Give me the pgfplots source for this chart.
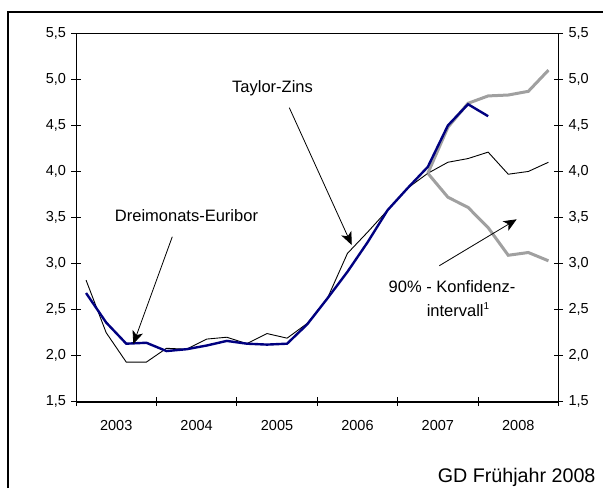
\documentclass[border=0pt]{standalone}
\usepackage{fontspec}
\setmainfont{Liberation Sans}
\usepackage{pgfplots}
\pgfplotsset{compat=1.18}
\usetikzlibrary{arrows.meta}

\definecolor{euribor}{RGB}{0,0,128}
\definecolor{band}{RGB}{160,160,160}

\newcommand{\tickfont}{\fontsize{14.5}{17}\selectfont}
\newcommand{\notefont}{\fontsize{16.5}{19}\selectfont}

\begin{document}
\begin{tikzpicture}
\path[use as bounding box] (0pt,0pt) rectangle (603pt,-488pt);

% frame (cut off at right and bottom)
\draw[line width=2pt] (7.7pt,-488pt) -- (7.7pt,-12pt) -- (603pt,-12pt);

\begin{axis}[
    at={(76pt,-401.7pt)}, anchor=south west,
    scale only axis,
    width=482.5pt, height=368.4pt,
    xmin=0, xmax=24, ymin=1.5, ymax=5.5,
    xtick={0,4,...,24}, xticklabels={},
    extra x ticks={2,6,10,14,18,22},
    extra x tick labels={2003,2004,\raisebox{1.5pt}{2005},\raisebox{1pt}{2006},\raisebox{-3pt}{2007},2008},
    extra x tick style={major tick length=0pt,
        tick label style={font=\tickfont, yshift=-15pt}},
    ytick={1.5,2,...,5.5},
    tick align=center, major tick length=9pt,
    ytick pos=left, xtick pos=bottom,
    yticklabel style={font=\tickfont, xshift=-2pt},
    /pgf/number format/.cd, use comma, fixed, fixed zerofill, precision=1,
        assume math mode=true,
    /pgfplots/.cd,
    axis line style={line width=1pt},
    tick style={line width=1pt, black},
    clip=false,
]

% Taylor-Zins
\addplot[black, line width=0.9pt] coordinates {
  (0.5,2.82) (1.5,2.25) (2.5,1.93) (3.5,1.93) (4.5,2.08) (5.5,2.07)
  (6.5,2.18) (7.5,2.20) (8.5,2.13) (9.5,2.24) (10.5,2.19) (11.5,2.35)
  (12.5,2.62) (13.5,3.11) (14.5,3.34) (15.5,3.58) (16.5,3.82) (17.5,3.98)
  (18.5,4.10) (19.5,4.14) (20.5,4.21) (21.5,3.97) (22.5,4.00) (23.5,4.10)
};

% Konfidenzintervall
\addplot[band, line width=3pt] coordinates {
  (17.5,3.98) (18.5,4.48) (19.5,4.74) (20.5,4.82) (21.5,4.83) (22.5,4.87) (23.5,5.10)
};
\addplot[band, line width=3pt] coordinates {
  (17.5,3.98) (18.5,3.72) (19.5,3.61) (20.5,3.39) (21.5,3.09) (22.5,3.12) (23.5,3.03)
};

% Dreimonats-Euribor
\addplot[euribor, line width=2.4pt] coordinates {
  (0.5,2.68) (1.5,2.36) (2.5,2.13) (3.5,2.14) (4.5,2.05) (5.5,2.07)
  (6.5,2.11) (7.5,2.16) (8.5,2.13) (9.5,2.12) (10.5,2.13) (11.5,2.34)
  (12.5,2.62) (13.5,2.91) (14.5,3.23) (15.5,3.58) (16.5,3.82) (17.5,4.05)
  (18.5,4.50) (19.5,4.73) (20.5,4.60)
};

\draw[line width=2pt] (axis cs:0,1.5) -- (axis cs:24,1.5);
\end{axis}

% right-hand scale
\begin{axis}[
    at={(76pt,-401.7pt)}, anchor=south west,
    scale only axis,
    width=482.5pt, height=368.4pt,
    xmin=0, xmax=24, ymin=1.5, ymax=5.5,
    hide x axis,
    axis y line*=right,
    ytick={1.5,2,...,5.5},
    tick align=center, major tick length=9pt,
    yticklabel style={font=\tickfont, xshift=2pt},
    /pgf/number format/.cd, use comma, fixed, fixed zerofill, precision=1,
        assume math mode=true,
    /pgfplots/.cd,
    axis line style={line width=1pt},
    tick style={line width=1pt, black},
]
\end{axis}

% annotations
\tikzset{note arrow/.style={line width=0.8pt, -{Stealth[length=13pt,width=11pt,inset=3.5pt]}}}
\node[font=\notefont, anchor=base] at (272.5pt,-92pt) {Taylor-Zins};
\draw[note arrow] (289.3pt,-107.7pt) -- (351.7pt,-245pt);

\node[font=\notefont, anchor=base] at (186.5pt,-221.3pt) {Dreimonats-Euribor};
\draw[note arrow] (172.3pt,-236.7pt) -- (133.3pt,-344pt);

\node[font=\notefont, anchor=base] at (452pt,-292.7pt) {90\% - Konfidenz-};
\node[font=\notefont, anchor=base] at (458pt,-316.7pt) {intervall\raisebox{7pt}{\fontsize{10}{12}\selectfont 1}};
\draw[note arrow] (439.3pt,-265.7pt) -- (516.7pt,-219.3pt);

\node[font=\fontsize{19.7}{23}\selectfont, anchor=base east] at (599pt,-482pt) {GD Frühjahr 2008};
\end{tikzpicture}
\end{document}
